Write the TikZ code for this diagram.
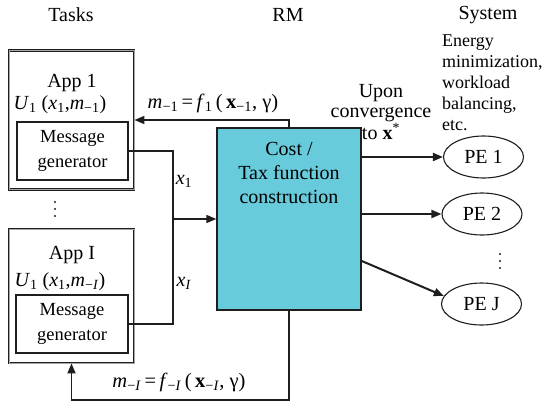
\documentclass[tikz,border=0pt]{standalone}
\usepackage{fontspec}
\setmainfont{Liberation Serif}
\usetikzlibrary{arrows.meta,shapes.geometric}
\definecolor{rmfill}{RGB}{104,203,219}
\definecolor{ink}{RGB}{30,30,30}
\newcommand{\sbs}[1]{\textsubscript{#1}}
\begin{document}
\begin{tikzpicture}[x=1pt,y=-1pt,
  big/.style={font=\fontsize{20}{24}\selectfont, inner sep=0pt, text=black},
  small/.style={font=\fontsize{18.5}{24.5}\selectfont, inner sep=0pt, align=center},
  appbox/.style={draw=ink, double=black!35, double distance=0.5pt, line width=0.9pt},
  msgbox/.style={draw=ink, line width=1.3pt, small},
  pe/.style={ellipse, draw=ink, line width=1.1pt, inner sep=0pt,
    minimum width=80pt, minimum height=42pt, font=\fontsize{20}{24}\selectfont},
  conn/.style={draw=ink, line width=1.6pt},
  tip/.style={-{Triangle[length=10pt,width=8pt]}},
  dot/.style={fill=ink, circle, inner sep=0pt, minimum size=2.4pt}
]
\useasboundingbox (0,0) rectangle (548,407);

% column titles
\node[big] (tasks) at (71,15) {Tasks};
\node[big] (rmtitle) at (288,15) {RM};
\node[big] (system) at (488,15) {System};

% application 1
\node[appbox, minimum width=125pt, minimum height=139pt] (app1) at (71.5,120) {};
\node[big] (app1name) at (72,83) {App 1};
\node[big] (app1u) at (60,105) {\textit{U}\sbs{1} (\textit{x}\sbs{1},\textit{m}\sbs{−1})};
\node[msgbox, minimum width=111pt, minimum height=58pt] (msg1) at (72.5,151) {Message\\generator};

% vertical dots between applications
\node[dot] (d1) at (55,202) {};
\node[dot] (d2) at (55,209) {};
\node[dot] (d3) at (55,216) {};

% application I
\node[appbox, minimum width=125pt, minimum height=134pt] (appI) at (71.5,296) {};
\node[big] (appIname) at (72,255) {App I};
\node[big] (appIu) at (60,282) {\textit{U}\sbs{1} (\textit{x}\sbs{1},\textit{m}\sbs{−\textit{I}})};
\node[msgbox, minimum width=112pt, minimum height=58pt] (msgI) at (72,324) {Message\\generator};

% resource manager
\node[draw=ink, line width=1.3pt, fill=rmfill, minimum width=144pt, minimum height=182pt] (rmbox) at (289,219) {};
\node[big, align=center, font=\fontsize{20}{24}\selectfont] (rmtext) at (289,173) {Cost /\\Tax function\\construction};

% bids from the applications to the manager
\coordinate (join) at (173,219);
\draw[conn] (msg1.east) -| (join);
\draw[conn] (msgI.east) -| (join);
\draw[conn, tip] (join) -- (rmbox.west);
\node[big] (x1) at (184,181) {\textit{x}\sbs{1}};
\node[big] (xI) at (184,283) {\textit{x}\sbs{\textit{I}}};

% messages back to the applications
\draw[conn, tip] (rmbox.north) |- (app1.east);
\node[big, font=\fontsize{20.5}{24}\selectfont] (m1) at (213,103) {\textit{m}\sbs{−1}\,=\,\textit{f}\sbs{1}\,(\,\textbf{x}\sbs{−1}, γ)};
\coordinate (low) at (289,400);
\draw[conn, tip] (rmbox.south) -- (low) -| (appI.south);
\node[big, font=\fontsize{20.5}{24}\selectfont] (mI) at (179,382) {\textit{m}\sbs{−\textit{I}}\,=\,\textit{f}\sbs{−\textit{I}}\,(\,\textbf{x}\sbs{−\textit{I}}, γ)};

% processing elements
\node[pe] (pe1) at (483.5,157) {PE 1};
\node[pe] (pe2) at (482,214) {PE 2};
\node[pe] (peJ) at (481.5,304) {PE J};
\node[dot] (e1) at (500,254) {};
\node[dot] (e2) at (500,261) {};
\node[dot] (e3) at (500,268) {};

\draw[conn, line width=2pt, tip] (rmbox.east |- pe1.west) -- (pe1.west);
\draw[conn, line width=2pt, tip] (rmbox.east |- pe2.west) -- (pe2.west);
\draw[conn, line width=2pt, tip] (rmbox.-30.8) -- (peJ.168);

\node[big, align=center, font=\fontsize{20}{20.5}\selectfont] (upon) at (381,112) {Upon\\convergence\\to \textbf{x}\textsuperscript{*}};
\node[inner sep=0pt, anchor=west, align=left, font=\fontsize{18}{21}\selectfont] (goal) at (442,83)
  {Energy\\minimization,\\workload\\balancing,\\etc.};
\end{tikzpicture}
\end{document}
